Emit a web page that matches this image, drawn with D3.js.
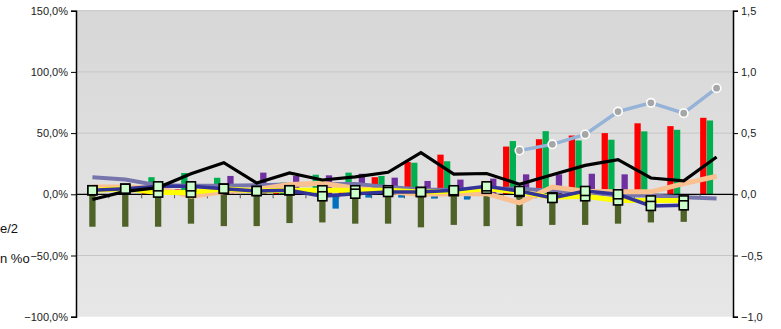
<!DOCTYPE html>
<html>
<head>
<meta charset="utf-8">
<script src="https://cdn.jsdelivr.net/npm/d3@7/dist/d3.min.js"></script>
<style>
  body { margin: 0; background: #fff; }
  svg { display: block; font-family: "Liberation Sans", Arial, sans-serif; }
</style>
</head>
<body>
<div class="canva"></div>
<script>
// categories (no labels shown on the x axis)
const categories = ["1","2","3","4","5","6","7","8","9","10","11","12","13","14","15","16","17","18","19","20"];

// bar series, left axis (%)
const redBars    = [null, null, 2, 4, null, null, 2, 5, 4.6, 14, 26.4, 32.4, null, 39, 45, 48, 50, 58, 55.7, 62.5];
const greenBars  = [null, null, 14, 17.4, 13.5, null, 9.5, 16, 17.7, 15, 25.8, 27, null, 43.5, 51.6, 44, 44.6, 51.4, 52.7, 60.3];
const oliveBars  = [-26.5, -26.5, -26.5, -24, -26, -26, -23.5, -23, -24, -24, -27, -25, -26, -26, -25, -25, -24, -23, -22.5, null];
const purpleBars = [null, null, null, null, 15, 17.7, 15, 15.5, 16.8, 13.6, 10.9, 12, 12.8, 16.3, 16.3, 16.8, 16.3, null, null, null];
const blueBars   = [null, null, null, null, null, null, null, -11.7, -2.7, -2.7, -3.5, -4.3, null, null, null, null, null, null, null, null];

// line series, left axis (%)
const lavenderLine = [14, 12, 7.3, 7, 7, 7.3, 8, 8.5, 8.5, 6, 4, 3.5, 4.6, 4.6, 3, 1.5, -0.8, -1, -2.5, -3.5];
const peachLine    = [6, 6, 5, -1.5, 2, 4, 8, 9, 5, 2, 0, 0.5, 0.5, -7, 6, 2.5, 2, 2, 8.7, 14.7];
const yellowLine   = [3.3, 4.6, 1.4, 1.4, 4.6, 2.7, 3.3, 3.3, 3.3, 3.3, 1.9, 2.5, 4.5, 1.9, -2.5, -1.6, -5, -5, -5, null];
const navyLine     = [3.3, 4.6, 6.5, 6.5, 4.6, 2.7, 3.3, -1.6, 0.5, 1.9, 1.9, 3.3, 6.5, 2.7, -3, 2.7, 0, -9.5, -9, null];
const blackLine    = [-4.3, 2.4, 5.5, 16.8, 25.8, 9.2, 17.5, 11.7, 14.3, 18, 34, 16.5, 17, 8.2, 16, 23.6, 28.3, 13.3, 11, 30.5];

// line series, right axis
const lightBlueLine = [null, null, null, null, null, null, null, null, null, null, null, null, null, 0.358, 0.408, 0.489, 0.676, 0.747, 0.663, 0.867];

// tick labels
const leftTicks  = [150, 100, 50, 0, -50, -100];
const rightTicks = [1.5, 1.0, 0.5, 0, -0.5, -1.0];

// legend fragments visible at the left edge
const legendTexts = ["e/2", "n %o"];

const width = 781, height = 329;
const margin = {top: 10.7, right: 48, bottom: 12.3, left: 76};

const svg = d3.select(".canva").append("svg")
  .attr("width", width)
  .attr("height", height);

const x = d3.scaleBand()
  .domain(categories)
  .range([margin.left, width - margin.right])
  .padding(0);

const yL = d3.scaleLinear().domain([-100, 150]).range([height - margin.bottom, margin.top]);
const yR = d3.scaleLinear().domain([-1, 1.5]).range([height - margin.bottom, margin.top]);

// plot background gradient
const defs = svg.append("defs");
const grad = defs.append("linearGradient").attr("id", "bg").attr("x1", 0).attr("y1", 0).attr("x2", 0).attr("y2", 1);
grad.append("stop").attr("offset", "0%").attr("stop-color", "#d7d7d7");
grad.append("stop").attr("offset", "100%").attr("stop-color", "#e7e7e7");

svg.append("rect")
  .attr("x", margin.left)
  .attr("y", margin.top)
  .attr("width", width - margin.right - margin.left)
  .attr("height", height - margin.bottom - margin.top)
  .attr("fill", "url(#bg)");

// gridlines
svg.append("g")
  .selectAll("line")
  .data(leftTicks.filter(d => d !== 0 && d !== -100))
  .enter().append("line")
  .attr("x1", margin.left).attr("x2", width - margin.right)
  .attr("y1", d => yL(d)).attr("y2", d => yL(d))
  .attr("stroke", "#c6c6c6")
  .attr("stroke-width", 1);

// bars
const barSeries = [
  {name: "red", values: redBars, color: "#ff0000"},
  {name: "green", values: greenBars, color: "#00b050"},
  {name: "olive", values: oliveBars, color: "#4f6228"},
  {name: "purple", values: purpleBars, color: "#7030a0"},
  {name: "blue", values: blueBars, color: "#0070c0"}
];
const xInner = d3.scaleBand()
  .domain(barSeries.map(s => s.name))
  .range([0, x.bandwidth()])
  .paddingInner(0.05);

barSeries.forEach(s => {
  svg.append("g")
    .selectAll("rect")
    .data(s.values.map((v, i) => ({cat: categories[i], v})).filter(d => d.v != null))
    .enter().append("rect")
    .attr("x", d => x(d.cat) + xInner(s.name))
    .attr("width", xInner.bandwidth())
    .attr("y", d => yL(Math.max(0, d.v)))
    .attr("height", d => Math.abs(yL(d.v) - yL(0)))
    .attr("fill", s.color);
});

// zero line with category ticks
svg.append("line")
  .attr("x1", margin.left).attr("x2", width - margin.right)
  .attr("y1", yL(0)).attr("y2", yL(0))
  .attr("stroke", "#000").attr("stroke-width", 1.2);

svg.append("g")
  .selectAll("line")
  .data(categories.slice(1))
  .enter().append("line")
  .attr("x1", d => x(d)).attr("x2", d => x(d))
  .attr("y1", yL(0)).attr("y2", yL(0) + 4)
  .attr("stroke", "#555").attr("stroke-width", 1);

// lines
const cx = i => x(categories[i]) + x.bandwidth() / 2;
const lineL = d3.line().defined(d => d != null).x((d, i) => cx(i)).y(d => yL(d));
const lineR = d3.line().defined(d => d != null).x((d, i) => cx(i)).y(d => yR(d));

const drawLine = (vals, gen, color, w) => {
  svg.append("path")
    .datum(vals)
    .attr("d", gen)
    .attr("fill", "none")
    .attr("stroke", color)
    .attr("stroke-width", w)
    .attr("stroke-linejoin", "miter");
};

drawLine(lavenderLine, lineL, "#7676ad", 4);
drawLine(peachLine, lineL, "#fac090", 5);
drawLine(yellowLine, lineL, "#ffff00", 5);
drawLine(navyLine, lineL, "#333399", 3.5);
drawLine(blackLine, lineL, "#000000", 3.2);
drawLine(lightBlueLine, lineR, "#95b3d7", 3.5);

// square markers on yellow and navy series
[yellowLine, navyLine].forEach(vals => {
  svg.append("g")
    .selectAll("rect")
    .data(vals.map((v, i) => ({i, v})).filter(d => d.v != null))
    .enter().append("rect")
    .attr("x", d => cx(d.i) - 4.5)
    .attr("y", d => yL(d.v) - 4.5)
    .attr("width", 9).attr("height", 9)
    .attr("fill", "#ccffcc")
    .attr("stroke", "#000")
    .attr("stroke-width", 1.6);
});

// circle markers on light blue series
svg.append("g")
  .selectAll("circle")
  .data(lightBlueLine.map((v, i) => ({i, v})).filter(d => d.v != null))
  .enter().append("circle")
  .attr("cx", d => cx(d.i))
  .attr("cy", d => yR(d.v))
  .attr("r", 4.2)
  .attr("fill", "#a6a6a6")
  .attr("stroke", "#fff")
  .attr("stroke-width", 1.6);

// axes
const fmtL = d => d3.format(".1f")(d).replace(".", ",") + "%";
const fmtR = d => d3.format(".1f")(d).replace(".", ",");

const axisL = svg.append("g")
  .attr("transform", `translate(${margin.left},0)`)
  .call(d3.axisLeft(yL).tickValues(leftTicks).tickFormat(fmtL).tickSize(5).tickPadding(3));
const axisR = svg.append("g")
  .attr("transform", `translate(${width - margin.right},0)`)
  .call(d3.axisRight(yR).tickValues(rightTicks).tickFormat(fmtR).tickSize(5).tickPadding(3));

[axisL, axisR].forEach(a => {
  a.select(".domain").attr("stroke", "#000").attr("stroke-width", 1.5);
  a.selectAll(".tick line").attr("stroke", "#000");
  a.selectAll(".tick text")
    .attr("font-size", 11)
    .attr("fill", "#222")
    .attr("font-family", "Liberation Sans, Arial, sans-serif");
});

// legend fragments
svg.append("g")
  .selectAll("text")
  .data(legendTexts)
  .enter().append("text")
  .attr("x", 0)
  .attr("y", (d, i) => i === 0 ? 233 : 263)
  .attr("text-anchor", "start")
  .attr("font-size", 13)
  .attr("fill", "#111")
  .text(d => d);
</script>
</body>
</html>
